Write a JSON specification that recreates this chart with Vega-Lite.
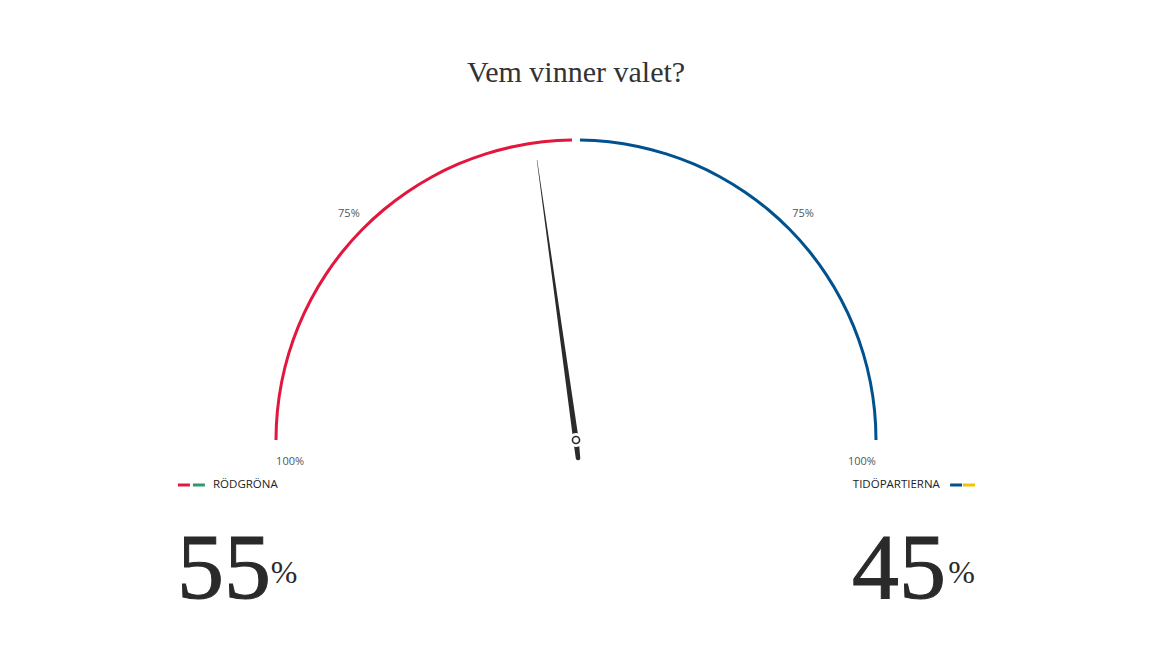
{
  "$schema": "https://vega.github.io/schema/vega-lite/v6.json",
  "description": "Gauge: Vem vinner valet? Rödgröna 55 %, Tidöpartierna 45 %.",
  "width": 1152,
  "height": 648,
  "autosize": "none",
  "padding": 0,
  "background": "white",
  "config": {"view": {"stroke": null}},
  "datasets": {
    "arcs": [
      {"block": "Rödgröna", "from": 100, "to": 50.42},
      {"block": "Tidöpartierna", "from": 49.58, "to": 0}
    ],
    "ticks": [
      {"label": "75%", "x": -0.757, "y": 0.753},
      {"label": "75%", "x": 0.757, "y": 0.753},
      {"label": "100%", "x": -0.953, "y": -0.073},
      {"label": "100%", "x": 0.953, "y": -0.073}
    ],
    "needle": [
      {"step": 1, "x": -0.13, "y": 0.933, "w": 0.4},
      {"step": 2, "x": 0, "y": 0, "w": 5.5},
      {"step": 3, "x": 0.0067, "y": -0.06, "w": 4.5}
    ],
    "dashes": [
      {"colour": "red", "x": -1.327, "x2": -1.287, "y": -0.15},
      {"colour": "green", "x": -1.277, "x2": -1.237, "y": -0.15},
      {"colour": "blue", "x": 1.247, "x2": 1.287, "y": -0.15},
      {"colour": "yellow", "x": 1.29, "x2": 1.33, "y": -0.15}
    ],
    "share": [
      {"block": "Rödgröna", "value": "55", "x": -1.173, "px": -0.973, "y": -0.527, "py": -0.477},
      {"block": "Tidöpartierna", "value": "45", "x": 1.077, "px": 1.285, "y": -0.527, "py": -0.477}
    ]
  },
  "layer": [
    {
      "data": {"values": [{"t": "Vem vinner valet?", "x": 0, "y": 1.193}]},
      "mark": {"type": "text", "font": "Liberation Serif", "fontSize": 30, "color": "#333333", "align": "center", "baseline": "alphabetic"},
      "encoding": {
        "x": {"field": "x", "type": "quantitative", "axis": null, "scale": {"domain": [-1.92, 1.92], "nice": false, "zero": false}},
        "y": {"field": "y", "type": "quantitative", "axis": null, "scale": {"domain": [-0.69333, 1.46667], "nice": false, "zero": false}},
        "text": {"field": "t"}
      }
    },
    {
      "data": {"name": "arcs"},
      "mark": {"type": "arc", "radius": 301.5, "radius2": 298.5},
      "encoding": {
        "x": {"datum": 0, "type": "quantitative"},
        "y": {"datum": 0, "type": "quantitative"},
        "theta": {"field": "from", "type": "quantitative", "stack": null, "scale": {"domain": [100, 0], "range": [-1.5708, 1.5708]}},
        "theta2": {"field": "to"},
        "color": {"field": "block", "type": "nominal", "legend": null, "scale": {"domain": ["Rödgröna", "Tidöpartierna"], "range": ["#e3173e", "#00528f"]}}
      }
    },
    {
      "data": {"name": "ticks"},
      "mark": {"type": "text", "font": "Open Sans", "fontSize": 11, "color": "#555555", "align": "center", "baseline": "middle"},
      "encoding": {
        "x": {"field": "x", "type": "quantitative"},
        "y": {"field": "y", "type": "quantitative"},
        "text": {"field": "label"}
      }
    },
    {
      "data": {"name": "needle"},
      "mark": {"type": "trail", "color": "#2b2b2b"},
      "encoding": {
        "x": {"field": "x", "type": "quantitative"},
        "y": {"field": "y", "type": "quantitative"},
        "order": {"field": "step"},
        "size": {"field": "w", "type": "quantitative", "scale": null, "legend": null}
      }
    },
    {
      "data": {"values": [{"x": 0, "y": 0}]},
      "mark": {"type": "point", "shape": "circle", "filled": true, "color": "white", "size": 200, "opacity": 1},
      "encoding": {
        "x": {"field": "x", "type": "quantitative"},
        "y": {"field": "y", "type": "quantitative"}
      }
    },
    {
      "data": {"values": [{"x": 0, "y": 0}]},
      "mark": {"type": "point", "shape": "circle", "fill": "white", "stroke": "#2b2b2b", "strokeWidth": 1.6, "size": 50, "opacity": 1},
      "encoding": {
        "x": {"field": "x", "type": "quantitative"},
        "y": {"field": "y", "type": "quantitative"}
      }
    },
    {
      "data": {"name": "dashes"},
      "mark": {"type": "rule", "strokeWidth": 3},
      "encoding": {
        "x": {"field": "x", "type": "quantitative"},
        "x2": {"field": "x2"},
        "y": {"field": "y", "type": "quantitative"},
        "stroke": {"field": "colour", "type": "nominal", "legend": null, "scale": {"domain": ["red", "green", "blue", "yellow"], "range": ["#e3173e", "#2e9a6c", "#00528f", "#f4c300"]}}
      }
    },
    {
      "data": {"values": [{"t": "RÖDGRÖNA", "x": -1.21, "y": -0.15}]},
      "mark": {"type": "text", "font": "Open Sans", "fontSize": 11.5, "fontWeight": 500, "color": "#222222", "align": "left", "baseline": "middle"},
      "encoding": {
        "x": {"field": "x", "type": "quantitative"},
        "y": {"field": "y", "type": "quantitative"},
        "text": {"field": "t"}
      }
    },
    {
      "data": {"values": [{"t": "TIDÖPARTIERNA", "x": 1.213, "y": -0.15}]},
      "mark": {"type": "text", "font": "Open Sans", "fontSize": 11.5, "fontWeight": 500, "color": "#222222", "align": "right", "baseline": "middle"},
      "encoding": {
        "x": {"field": "x", "type": "quantitative"},
        "y": {"field": "y", "type": "quantitative"},
        "text": {"field": "t"}
      }
    },
    {
      "data": {"name": "share"},
      "mark": {"type": "text", "font": "Liberation Serif", "fontSize": 94, "color": "#2a2a2a", "stroke": "#2a2a2a", "strokeWidth": 1, "align": "center", "baseline": "alphabetic"},
      "encoding": {
        "x": {"field": "x", "type": "quantitative"},
        "y": {"field": "y", "type": "quantitative"},
        "text": {"field": "value"}
      }
    },
    {
      "data": {"name": "share"},
      "mark": {"type": "text", "font": "Liberation Serif", "fontSize": 32, "color": "#2a2a2a", "align": "center", "baseline": "alphabetic", "text": "%"},
      "encoding": {
        "x": {"field": "px", "type": "quantitative"},
        "y": {"field": "py", "type": "quantitative"}
      }
    }
  ]
}
